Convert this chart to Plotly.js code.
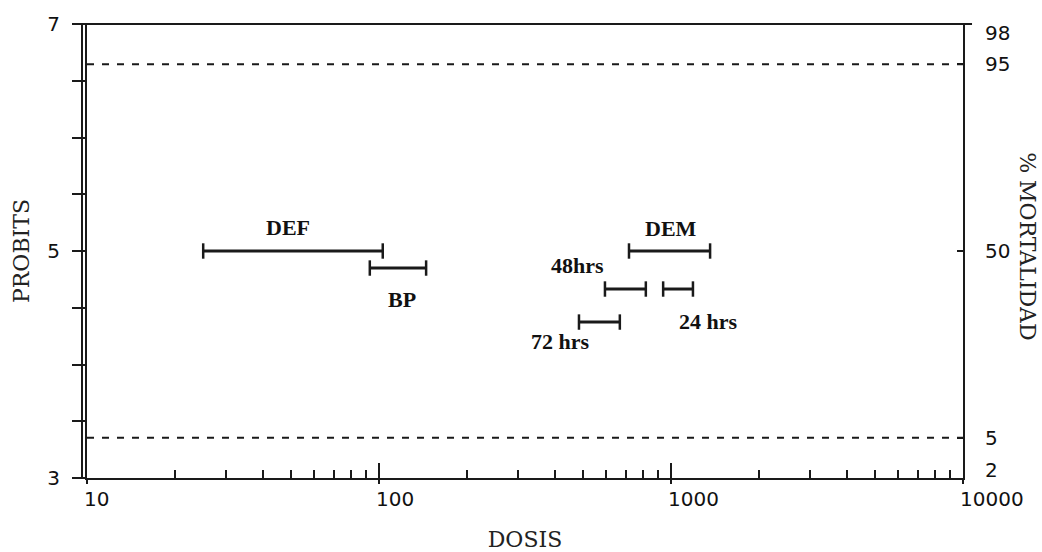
<!DOCTYPE html>
<html>
<head>
<meta charset="utf-8">
<script src="https://cdn.plot.ly/plotly-3.0.1.min.js"></script>
<style>html,body{margin:0;padding:0;background:#fff;}#chart{width:1042px;height:552px;}</style>
</head>
<body>
<div id="chart"></div>
<script>
// ---- data ----
var groups   = ['DEF', 'BP', 'DEM', '48hrs', '24 hrs', '72 hrs'];
var doseLow  = [25, 93, 718, 594, 940, 484];
var doseHigh = [103, 145, 1361, 820, 1189, 668];
var probit   = [5.0, 4.85, 5.0, 4.665, 4.665, 4.374];

var xTickVals   = [10, 100, 1000, 10000];
var xTickText   = ['10', '100', '1000', '10000'];
var yTickVals   = [3, 3.5, 4, 4.5, 5, 5.5, 6, 6.5, 7];
var yTickText   = ['3', '', '', '', '5', '', '', '', '7'];
var pctLabels   = ['2', '5', '50', '95', '98'];
var pctPos      = [3.07, 3.355, 5, 6.645, 6.92];
var pctTickPos  = [3.355, 5, 6.645];
var refProbits  = [6.645, 3.355];   // 95 % and 5 % mortality

// label offsets (pixels) relative to each bar centre
var labelDx = [-4.5, 4, 1, -48, 30, -38.5];
var labelDy = [24, -31, 22.5, 23.5, -32.5, -19];

var minorVals = [];
[10, 100, 1000].forEach(function (d) { for (var k = 2; k <= 9; k++) minorVals.push(k * d); });

var ink = '#1a1a1a';
var traces = [];
for (var i = 0; i < groups.length; i++) {
  traces.push({
    type: 'scatter', mode: 'lines+markers',
    x: [doseLow[i], doseHigh[i]], y: [probit[i], probit[i]],
    name: groups[i], showlegend: false,
    line: {color: ink, width: 3},
    marker: {symbol: 'line-ns', size: 11, color: ink, line: {color: ink, width: 2.5}},
    hoverinfo: 'name+x'
  });
}
// empty traces so the overlay axes are drawn
traces.push({type: 'scatter', x: [], y: [], xaxis: 'x2', yaxis: 'y', showlegend: false, hoverinfo: 'skip'});
traces.push({type: 'scatter', x: [], y: [], xaxis: 'x', yaxis: 'y2', showlegend: false, hoverinfo: 'skip'});
traces.push({type: 'scatter', x: [], y: [], xaxis: 'x', yaxis: 'y3', showlegend: false, hoverinfo: 'skip'});

var annotations = groups.map(function (g, i) {
  return {
    xref: 'x', yref: 'y',
    x: (Math.log10(doseLow[i]) + Math.log10(doseHigh[i])) / 2, y: probit[i],
    xshift: labelDx[i], yshift: labelDy[i],
    text: '<b>' + g + '</b>', showarrow: false,
    font: {family: 'Liberation Serif, Times New Roman, serif', size: 22, color: '#111'}
  };
});
annotations.push({
  xref: 'paper', yref: 'paper', x: 1.074, y: 0.511, xanchor: 'center', yanchor: 'middle', textangle: 90,
  text: '% MORTALIDAD', showarrow: false,
  font: {family: 'DejaVu Serif, serif', size: 22, color: '#222'}
});

var shapes = refProbits.map(function (p) {
  return {type: 'line', xref: 'paper', yref: 'y', x0: 0, x1: 1, y0: p, y1: p,
          line: {color: ink, width: 2, dash: '7px,8px'}};
});
shapes.push({type: 'line', xref: 'paper', yref: 'paper', x0: -0.0057, x1: -0.0057, y0: 0, y1: 1,
             line: {color: ink, width: 2}});
shapes.push({type: 'line', xref: 'paper', yref: 'paper', x0: -0.0057, x1: 1.0103, y0: 1, y1: 1,
             line: {color: ink, width: 2}});

var tickFont = {family: 'DejaVu Sans, sans-serif', size: 20, color: '#111'};

var layout = {
  width: 1042, height: 552,
  margin: {l: 87, r: 79, t: 24, b: 74, autoexpand: false},
  paper_bgcolor: '#fff', plot_bgcolor: '#fff',
  showlegend: false,
  xaxis: {
    type: 'log', range: [1, 4], tickmode: 'array', tickvals: xTickVals, ticktext: xTickText,
    ticks: 'inside', ticklen: 15, tickwidth: 2, tickcolor: ink,
    ticklabelposition: 'outside right', ticklabelshift: -5,
    minor: {tickmode: 'array', tickvals: minorVals, ticks: 'inside', ticklen: 8, tickwidth: 2, tickcolor: ink, showgrid: false},
    showline: true, linewidth: 2, linecolor: ink, showgrid: false, zeroline: false,
    tickfont: tickFont, ticklabelstandoff: 2,
    title: {text: 'DOSIS', standoff: 26, font: {family: 'DejaVu Serif, serif', size: 22, color: '#222'}}
  },
  xaxis2: {
    type: 'log', range: [1, 4], overlaying: 'x', anchor: 'y', side: 'bottom',
    tickmode: 'array', tickvals: xTickVals, ticks: 'outside', ticklen: 5, tickwidth: 2, tickcolor: ink,
    showticklabels: false, showline: false, showgrid: false, zeroline: false
  },
  yaxis: {
    range: [3, 7], tickmode: 'array', tickvals: yTickVals, ticktext: yTickText,
    ticks: 'outside', ticklen: 13, tickwidth: 2, tickcolor: ink,
    showline: true, linewidth: 2, linecolor: ink, showgrid: false, zeroline: false,
    tickfont: tickFont, ticklabelstandoff: 8,
    title: {text: 'PROBITS', standoff: 12, font: {family: 'DejaVu Serif, serif', size: 22, color: '#222'}}
  },
  yaxis2: {
    range: [3, 7], overlaying: 'y', side: 'right', anchor: 'x',
    tickmode: 'array', tickvals: pctPos, ticktext: pctLabels, ticks: '',
    showline: true, linewidth: 2, linecolor: ink, showgrid: false, zeroline: false,
    tickfont: tickFont, ticklabelstandoff: 16
  },
  yaxis3: {
    range: [3, 7], overlaying: 'y', side: 'right', anchor: 'x',
    tickmode: 'array', tickvals: pctTickPos, ticks: 'inside', ticklen: 6, tickwidth: 2, tickcolor: ink,
    showticklabels: false, showline: false, showgrid: false, zeroline: false
  },
  annotations: annotations,
  shapes: shapes
};

Plotly.newPlot('chart', traces, layout, {displayModeBar: false, staticPlot: true});
</script>
</body>
</html>
